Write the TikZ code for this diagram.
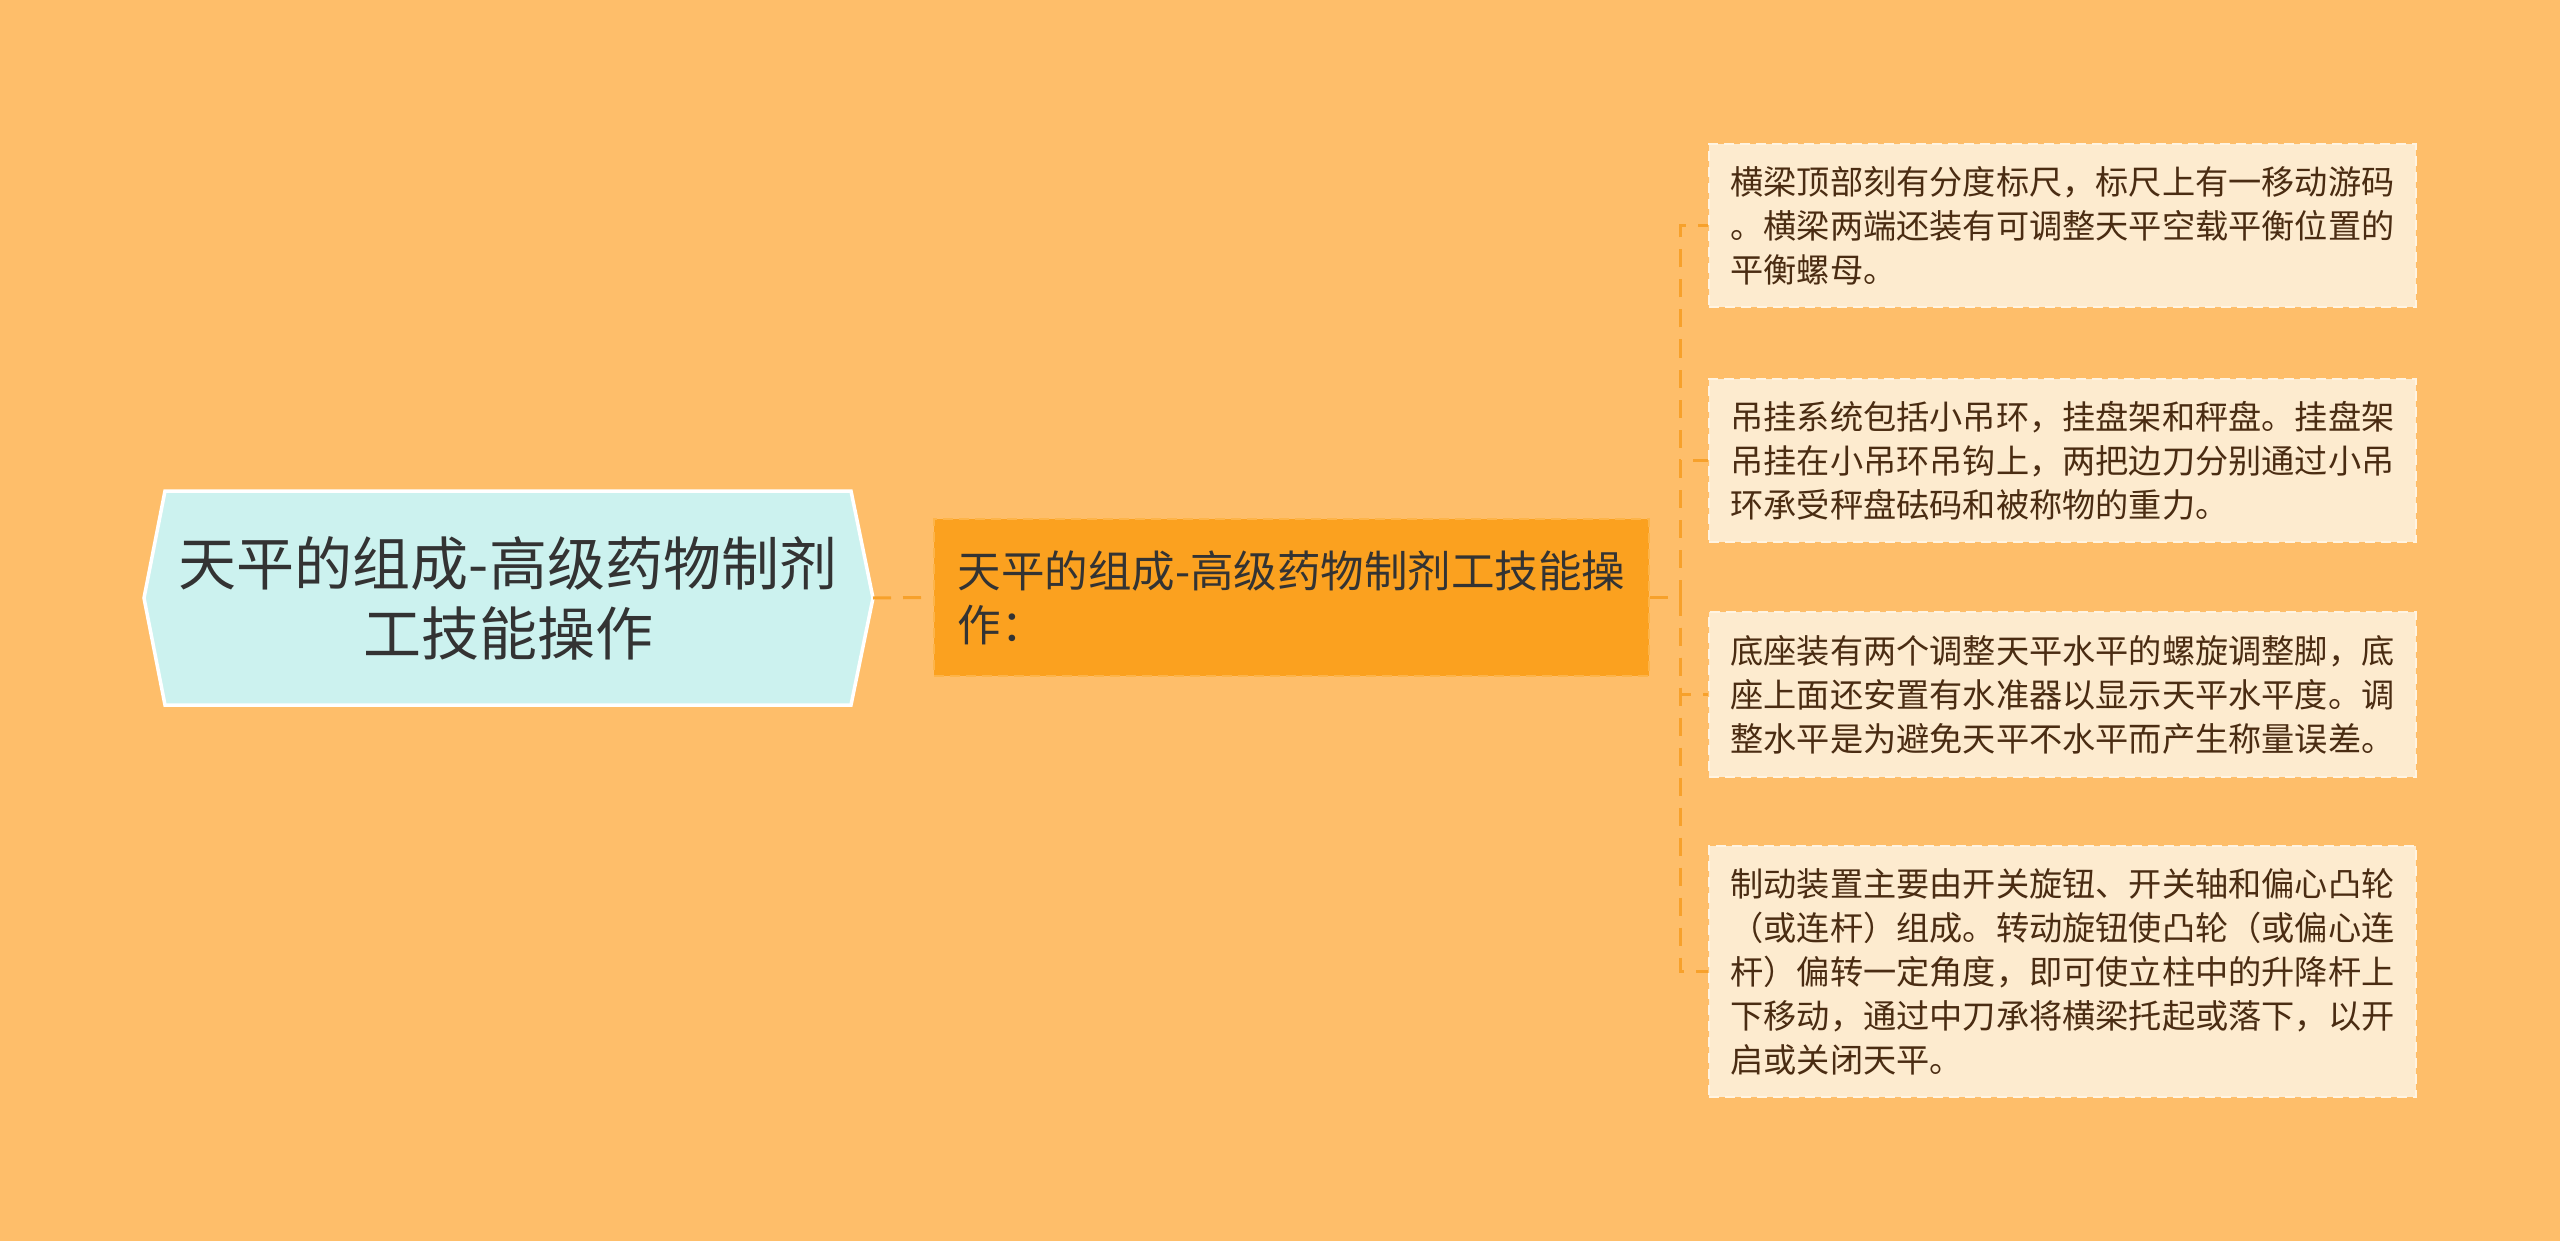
\documentclass[tikz,border=0pt]{standalone}
\usepackage{fontspec}
\setmainfont{Noto Sans CJK SC}
\begin{document}
\begin{tikzpicture}[x=1pt,y=-1pt,
  link/.style={draw=linkc,line width=3pt,dash pattern=on 18pt off 12pt},
  leafbox/.style={fill=leaffill,draw=leafdraw,line width=2.5pt,dash pattern=on 10pt off 6pt,
    minimum width=707pt,align=left,text=leaftext,
    font=\fontsize{33.2}{44}\selectfont},
  midbox/.style={fill=midfill,draw=middraw,line width=2.5pt,dash pattern=on 10pt off 6pt,
    minimum width=715pt,minimum height=157pt,align=left,
    text=darktext,font=\fontsize{43.5}{54}\selectfont},
  roottext/.style={align=center,text=darktext,font=\fontsize{58}{70}\selectfont}]
\definecolor{bg}{HTML}{FEBE6A}
\definecolor{linkc}{HTML}{F7A12B}
\definecolor{leaffill}{HTML}{FDEBCF}
\definecolor{leafdraw}{HTML}{FFF4E2}
\definecolor{leaftext}{HTML}{4A2C12}
\definecolor{midfill}{HTML}{FBA11F}
\definecolor{middraw}{HTML}{FDB449}
\definecolor{rootfill}{HTML}{CCF2EF}
\definecolor{darktext}{HTML}{333333}
\fill[bg] (0,0) rectangle (2560,1241);
\useasboundingbox (0,0) rectangle (2560,1241);
% root shape
\fill[rootfill,draw=white,line width=3.5pt,line join=miter]
  (144,598) -- (165,491) -- (851,491) -- (873,598) -- (851,705) -- (165,705) -- cycle;
\coordinate (rootE) at (873,598);
\node[roottext] (root) at (508,598) {天平的组成-高级药物制剂\\工技能操作};
% middle
\node[midbox] (mid) at (1291.5,597.5) {天平的组成-高级药物制剂工技能操\\作：};
% leaves
\node[leafbox,minimum height=163pt] (l1) at (2062.5,225.5)
  {横梁顶部刻有分度标尺，标尺上有一移动游码\\。横梁两端还装有可调整天平空载平衡位置的\\平衡螺母。};
\node[leafbox,minimum height=163pt] (l2) at (2062.5,460.5)
  {吊挂系统包括小吊环，挂盘架和秤盘。挂盘架\\吊挂在小吊环吊钩上，两把边刀分别通过小吊\\环承受秤盘砝码和被称物的重力。};
\node[leafbox,minimum height=165pt] (l3) at (2062.5,694.5)
  {底座装有两个调整天平水平的螺旋调整脚，底\\座上面还安置有水准器以显示天平水平度。调\\整水平是为避免天平不水平而产生称量误差。};
\node[leafbox,minimum height=251pt] (l4) at (2062.5,971.5)
  {制动装置主要由开关旋钮、开关轴和偏心凸轮\\（或连杆）组成。转动旋钮使凸轮（或偏心连\\杆）偏转一定角度，即可使立柱中的升降杆上\\下移动，通过中刀承将横梁托起或落下，以开\\启或关闭天平。};
% connectors
\coordinate (j) at (1680,597.5);
\draw[link] (rootE) -- (mid.west);
\draw[link] (mid.east) -- (j);
\draw[link] (j) |- (l1.west);
\draw[link] (j) |- (l2.west);
\draw[link] (j) |- (l3.west);
\draw[link] (j) |- (l4.west);
\end{tikzpicture}
\end{document}
